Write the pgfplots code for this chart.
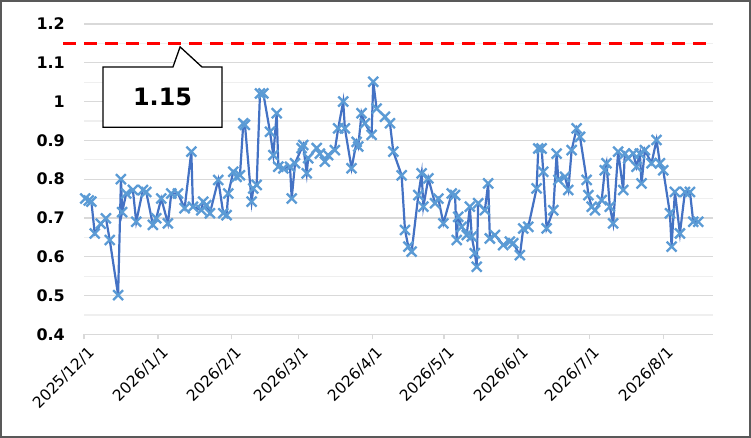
\documentclass[border=0pt]{standalone}
\usepackage{fontspec}
\setmainfont{DejaVu Sans}
\usepackage{pgfplots}
\pgfplotsset{compat=1.18}
\definecolor{lineblue}{HTML}{4472C4}
\definecolor{markblue}{HTML}{5B9BD5}
\definecolor{majgrid}{HTML}{D9D9D9}
\definecolor{mingrid}{HTML}{EFEFEF}
\definecolor{framegray}{HTML}{595959}
\begin{document}
\begin{tikzpicture}
\useasboundingbox (0,0) rectangle (751bp,438bp);
\fill[white] (0,0) rectangle (751bp,438bp);
\begin{axis}[
  at={(84bp,103.7bp)}, anchor=south west,
  scale only axis, width=629.3bp, height=310.3bp,
  xmin=0, xmax=263.9, ymin=0.4, ymax=1.2,
  clip=false,
  axis x line*=bottom, axis y line*=left,
  x axis line style={draw=majgrid, line width=1.2bp},
  y axis line style={draw=none},
  tick align=outside,
  xtick={0,31,62,90,121,151,182,212,243},
  xticklabels={2025/12/1,2026/1/1,2026/2/1,2026/3/1,2026/4/1,2026/5/1,2026/6/1,2026/7/1,2026/8/1},
  xtick style={draw=majgrid, line width=1.2bp},
  major tick length=5bp,
  ytick={0.4,0.5,0.6,0.7,0.8,0.9,1.0,1.1,1.2},
  yticklabels={0.4,0.5,0.6,0.7,0.8,0.9,1,1.1,1.2},
  minor ytick={0.45,0.55,0.65,0.75,0.85,0.95,1.05,1.15},
  ytick style={draw=none},
  ymajorgrids, yminorgrids,
  major grid style={draw=majgrid, line width=1.2bp},
  minor grid style={draw=mingrid, line width=1.2bp},
  /pgf/number format/assume math mode=true,
  yticklabel style={font=\bfseries\fontsize{16}{16}\selectfont, anchor=east, inner sep=0pt, xshift=-14bp},
  xticklabel style={font=\fontsize{15.5}{15.5}\selectfont, yshift=-6bp, xshift=3bp, rotate=45, anchor=north east, inner sep=0pt},
]
\addplot[red, line width=2.5bp, dash pattern=on 13bp off 8bp] coordinates {(-8.8,1.15) (264,1.15)};
\addplot[lineblue, line width=2.2bp, mark=x, mark size=7bp, mark options={markblue, line width=2.3bp, solid}] coordinates {
(0.5,0.750) (2.0,0.745) (3.1,0.742) (4.5,0.660) (7.0,0.685) (9.2,0.699) (10.8,0.643) (14.3,0.501)
(15.5,0.800) (16.0,0.715) (17.7,0.763) (20.5,0.772) (21.9,0.690) (24.7,0.772) (26.1,0.767)
(28.9,0.682) (30.3,0.699) (32.4,0.750) (35.2,0.686) (36.6,0.763) (39.4,0.763) (42.2,0.725)
(45.0,0.871) (45.7,0.729) (49.2,0.720) (50.0,0.742) (51.3,0.733) (52.8,0.712) (56.3,0.798)
(58.4,0.712) (59.8,0.707) (60.5,0.763) (62.6,0.819) (64.0,0.806) (65.4,0.810) (66.8,0.944)
(67.5,0.940) (70.3,0.742) (71.0,0.776) (72.4,0.785) (73.8,1.021) (75.2,1.021) (78.0,0.922)
(79.4,0.862) (80.8,0.970) (81.5,0.832) (83.6,0.828) (86.4,0.832) (87.1,0.750) (88.5,0.841)
(91.3,0.880) (91.9,0.888) (93.4,0.815) (94.0,0.854) (97.6,0.880) (98.9,0.866) (101.0,0.845)
(102.4,0.862) (105.2,0.875) (106.6,0.931) (108.7,1.000) (109.4,0.931) (112.2,0.828)
(114.3,0.896) (115.0,0.884) (116.4,0.970) (117.8,0.944) (120.6,0.914) (121.3,1.051)
(122.7,0.982) (126.2,0.961) (128.3,0.944) (129.7,0.871) (133.2,0.810) (134.6,0.669)
(136.0,0.626) (137.4,0.613) (140.2,0.759) (141.6,0.815) (142.3,0.729) (144.4,0.802)
(147.2,0.738) (148.6,0.750) (150.7,0.686) (154.2,0.763) (155.6,0.759) (156.3,0.643)
(156.9,0.703) (158.4,0.677) (160.5,0.656) (161.8,0.729) (162.6,0.652) (163.9,0.609)
(164.7,0.574) (165.3,0.738) (168.1,0.720) (169.5,0.789) (170.2,0.647) (172.3,0.656)
(175.8,0.630) (178.6,0.639) (180.0,0.635) (182.8,0.604) (184.2,0.673) (186.3,0.677)
(189.8,0.776) (190.5,0.879) (191.9,0.879) (192.6,0.819) (194.0,0.673) (196.8,0.720)
(198.2,0.866) (198.9,0.798) (201.7,0.806) (203.1,0.772) (204.5,0.875) (206.6,0.931)
(208.0,0.909) (210.8,0.798) (211.5,0.759) (212.9,0.729) (214.3,0.720) (217.1,0.746)
(218.4,0.823) (219.1,0.841) (220.5,0.729) (221.9,0.686) (224.0,0.871) (226.1,0.772)
(226.8,0.866) (228.2,0.854) (230.3,0.866) (231.7,0.832) (233.1,0.866) (233.8,0.789)
(235.2,0.875) (238.0,0.841) (240.1,0.901) (241.5,0.841) (242.9,0.823) (245.7,0.712)
(246.4,0.626) (247.8,0.767) (249.9,0.660) (252.0,0.767) (254.1,0.767) (255.5,0.690)
(257.6,0.690)
};
\draw[black, line width=1.3bp, fill=white]
  (axis cs:8.0,0.934) -- (axis cs:57.9,0.934) -- (axis cs:57.9,1.089) -- (axis cs:49.5,1.089)
  -- (axis cs:40.3,1.141) -- (axis cs:37.3,1.089) -- (axis cs:8.0,1.089) -- cycle;
\node[font=\bfseries\fontsize{24}{24}\selectfont, inner sep=0pt] at (axis cs:32.95,1.0115) {1.15};
\end{axis}
\draw[framegray, line width=2bp] (1bp,1bp) rectangle (750bp,437bp);
\end{tikzpicture}
\end{document}
